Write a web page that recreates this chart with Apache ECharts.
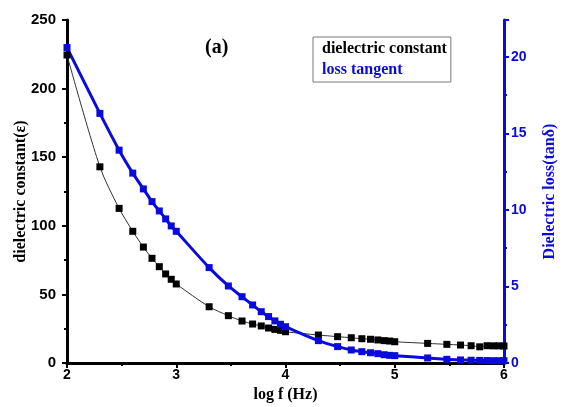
<!DOCTYPE html>
<html>
<head>
<meta charset="utf-8">
<script src="https://cdn.jsdelivr.net/npm/echarts@6/dist/echarts.min.js"></script>
<style>
  html, body { margin: 0; padding: 0; background: #fff; }
  #chart { width: 568px; height: 407px; }
</style>
</head>
<body>
<div id="chart"></div>
<script>
// log f 值
var logF = [2, 2.301, 2.477, 2.602, 2.699, 2.778, 2.845, 2.903, 2.954, 3,
  3.301, 3.477, 3.602, 3.699, 3.778, 3.845, 3.903, 3.954, 4,
  4.301, 4.477, 4.602, 4.699, 4.778, 4.845, 4.903, 4.954, 5,
  5.301, 5.477, 5.602, 5.699, 5.778, 5.845, 5.903, 5.954, 6];
// 介电常数
var epsVals = [224.5, 143, 112.7, 96, 84.5, 76.3, 70.2, 64.9, 61, 57.6,
  41, 34.5, 30.6, 28.4, 27, 25.5, 24.5, 23.8, 22.8,
  20.4, 19.2, 18.4, 17.7, 17.3, 16.8, 16.3, 16, 15.5,
  14.3, 13.6, 13.1, 12.6, 11.8, 12.6, 12.5, 12.5, 12.4];
// 损耗角正切
var tanVals = [20.6, 16.3, 13.9, 12.4, 11.37, 10.54, 9.93, 9.41, 8.95, 8.6,
  6.23, 5.03, 4.33, 3.79, 3.35, 3.03, 2.75, 2.53, 2.37,
  1.46, 1.07, 0.85, 0.74, 0.67, 0.61, 0.54, 0.5, 0.48,
  0.33, 0.24, 0.2, 0.18, 0.17, 0.16, 0.15, 0.15, 0.15];

var serif = '"Liberation Serif", "Times New Roman", serif';
var sans = '"Liberation Sans", Arial, sans-serif';
var blue = '#0a0adc';

function pairs(xs, ys) {
  var out = [];
  for (var i = 0; i < xs.length; i++) out.push([xs[i], ys[i]]);
  return out;
}

var chart = echarts.init(document.getElementById('chart'));
var option = {
  animation: false,
  backgroundColor: '#fff',
  title: {
    text: '(a)', left: 200, top: 33,
    textStyle: { fontFamily: serif, fontWeight: 'bold', fontSize: 20, color: '#000' }
  },
  legend: {
    left: 313, top: 37, orient: 'vertical',
    icon: 'none', itemWidth: 0, itemHeight: 14, itemGap: 5,
    padding: [4, 4, 4, 4],
    borderColor: '#777', borderWidth: 1,
    textStyle: { fontFamily: serif, fontWeight: 'bold', fontSize: 16, padding: 0 },
    data: [
      { name: 'dielectric constant', textStyle: { color: '#000' } },
      { name: 'loss tangent', textStyle: { color: blue } }
    ]
  },
  grid: { left: 67, right: 64, top: 20, bottom: 44, outerBoundsMode: 'none' },
  xAxis: [{
    type: 'value', min: 2, max: 6, interval: 1,
    name: 'log f (Hz)', nameLocation: 'middle', nameGap: 23,
    nameTextStyle: { fontFamily: serif, fontWeight: 'bold', fontSize: 16, color: '#000' },
    axisLine: { lineStyle: { color: '#000', width: 3 } },
    axisTick: { length: 5, lineStyle: { width: 2, color: '#000' } },
    minorTick: { show: true, splitNumber: 2, length: 3, lineStyle: { width: 2, color: '#000' } },
    axisLabel: { fontFamily: sans, fontWeight: 'bold', fontSize: 14, color: '#000', margin: 5 },
    splitLine: { show: false }
  }, {
    type: 'value', min: 2, max: 6, interval: 1, position: 'top',
    axisLine: { lineStyle: { color: '#000', width: 3 } },
    axisTick: { inside: true, length: 5, lineStyle: { width: 2, color: '#000' } },
    minorTick: { show: true, splitNumber: 2, length: 3, lineStyle: { width: 2, color: '#000' } },
    axisLabel: { show: false },
    splitLine: { show: false }
  }],
  yAxis: [{
    type: 'value', min: 0, max: 250, interval: 50, position: 'left',
    name: 'dielectric constant(ε)', nameLocation: 'middle', nameGap: 38,
    nameMoveOverlap: false,
    nameTextStyle: { fontFamily: serif, fontWeight: 'bold', fontSize: 16, color: '#000' },
    axisLine: { show: true, lineStyle: { color: '#000', width: 3 } },
    axisTick: { show: true, length: 5, lineStyle: { width: 2, color: '#000' } },
    minorTick: { show: true, splitNumber: 2, length: 3, lineStyle: { width: 2, color: '#000' } },
    axisLabel: { fontFamily: sans, fontWeight: 'bold', fontSize: 15, color: '#000', margin: 11 },
    splitLine: { show: false }
  }, {
    type: 'value', min: 0, max: 22.4, interval: 5, position: 'right',
    name: 'Dielectric loss(tanδ)', nameLocation: 'middle', nameGap: 38,
    nameRotate: 90,
    nameTextStyle: { fontFamily: serif, fontWeight: 'bold', fontSize: 16, color: blue },
    axisLine: { show: true, lineStyle: { color: blue, width: 3 } },
    axisTick: { show: true, length: 5, lineStyle: { width: 2, color: blue } },
    minorTick: { show: true, splitNumber: 2, length: 3, lineStyle: { width: 2, color: blue } },
    axisLabel: { fontFamily: sans, fontWeight: 'bold', fontSize: 14, color: blue, margin: 7, showMaxLabel: false },
    splitLine: { show: false }
  }],
  series: [{
    name: 'dielectric constant', type: 'line', yAxisIndex: 0, smooth: 0.3,
    data: pairs(logF, epsVals),
    symbol: 'rect', symbolSize: 7,
    itemStyle: { color: '#000' },
    lineStyle: { color: '#333', width: 1 }
  }, {
    name: 'loss tangent', type: 'line', yAxisIndex: 1, smooth: 0.3,
    data: pairs(logF, tanVals),
    symbol: 'rect', symbolSize: 7,
    itemStyle: { color: blue },
    lineStyle: { color: blue, width: 3 }
  }]
};
chart.setOption(option);
</script>
</body>
</html>
